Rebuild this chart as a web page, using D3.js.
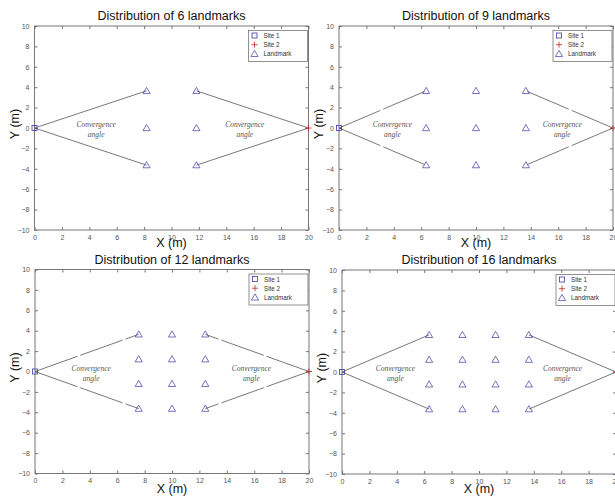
<!DOCTYPE html>
<html>
<head>
<meta charset="utf-8">
<script src="https://d3js.org/d3.v7.min.js"></script>
<style>
  body { margin: 0; background: #fff; }
  svg { display: block; font-family: "Liberation Sans", Arial, sans-serif; }
  .tick text { fill: #555; font-size: 7px; }
  .conv { font-family: "Liberation Serif", "Times New Roman", serif; font-style: italic; font-size: 7.5px; fill: #555; }
</style>
</head>
<body>
<svg id="chart" width="615" height="497"></svg>
<script>
// chart data
const titles = ["Distribution of 6 landmarks", "Distribution of 9 landmarks",
                "Distribution of 12 landmarks", "Distribution of 16 landmarks"];
const landmarkX = [[8.18, 11.82], [6.36, 10, 13.64], [7.57, 10, 12.43], [6.36, 8.79, 11.21, 13.64]];
const landmarkY = [[3.64, 0, -3.64], [3.64, 0, -3.64], [3.64, 1.21, -1.21, -3.64], [3.64, 1.21, -1.21, -3.64]];
const site1 = [0, 0];
const site2 = [20, 0];
const convX = [[4.5, 15.35], [3.9, 16.3], [4.1, 15.8], [3.9, 16.1]];
const convY = -0.1;
const xTicks = d3.range(0, 21, 2);
const yTicks = d3.range(-10, 11, 2);
const legendLabels = ["Site 1", "Site 2", "Landmark"];

// panel placement (pixels)
const panelPos = [[34.5, 26], [339, 26], [35, 269.5], [342, 270]];
const W = 274, H = 204;

const svg = d3.select("#chart");
const blue = "#3a3aa8", red = "#cc2222", axisCol = "#777";

const tri = d3.symbol().type(d3.symbolTriangle).size(22);

function drawMarker(g, kind, x, y) {
  if (kind === 0) {
    g.append("rect").attr("x", x - 2.5).attr("y", y - 2.5).attr("width", 5).attr("height", 5)
      .attr("fill", "none").attr("stroke", blue).attr("stroke-width", 0.8);
  } else if (kind === 1) {
    g.append("path").attr("d", `M${x - 3},${y}H${x + 3}M${x},${y - 3}V${y + 3}`)
      .attr("stroke", red).attr("stroke-width", 0.8);
  } else {
    g.append("path").attr("d", tri).attr("transform", `translate(${x},${y + 0.6})`)
      .attr("fill", "none").attr("stroke", blue).attr("stroke-width", 0.7);
  }
}

titles.forEach(function(title, i) {
  const [px, py] = panelPos[i];
  const x = d3.scaleLinear().domain([0, 20]).range([0, W]);
  const y = d3.scaleLinear().domain([-10, 10]).range([H, 0]);
  const g = svg.append("g").attr("transform", `translate(${px},${py})`);

  // frame
  g.append("rect").attr("width", W).attr("height", H)
    .attr("fill", "#fff").attr("stroke", axisCol).attr("stroke-width", 1);

  // axes (ticks inward on all sides)
  const ax = [
    d3.axisBottom(x).tickValues(xTicks).tickSize(-3).tickPadding(5),
    d3.axisTop(x).tickValues(xTicks).tickSize(-3).tickFormat(""),
    d3.axisLeft(y).tickValues(yTicks).tickSize(-3).tickPadding(5),
    d3.axisRight(y).tickValues(yTicks).tickSize(-3).tickFormat("")
  ];
  const tr = [`translate(0,${H})`, "translate(0,0)", "translate(0,0)", `translate(${W},0)`];
  ax.forEach(function(a, k) {
    const ga = g.append("g").attr("transform", tr[k]).call(a);
    ga.select(".domain").remove();
    ga.selectAll("line").attr("stroke", axisCol);
  });

  // sight lines
  const xs = landmarkX[i];
  const yTop = d3.max(landmarkY[i]), yBot = d3.min(landmarkY[i]);
  const lines = [
    [site1, [xs[0], yTop]], [site1, [xs[0], yBot]],
    [site2, [xs[xs.length - 1], yTop]], [site2, [xs[xs.length - 1], yBot]]
  ];
  lines.forEach(function(l) {
    g.append("line")
      .attr("x1", x(l[0][0])).attr("y1", y(l[0][1]))
      .attr("x2", x(l[1][0])).attr("y2", y(l[1][1]))
      .attr("stroke", "#555").attr("stroke-width", 0.8)
      .attr("stroke-dasharray", (i === 1 || i === 2) ? "45,3" : null);
  });

  // landmarks
  xs.forEach(function(lx) {
    landmarkY[i].forEach(function(ly) { drawMarker(g, 2, x(lx), y(ly)); });
  });
  drawMarker(g, 0, x(site1[0]), y(site1[1]));
  drawMarker(g, 1, x(site2[0]), y(site2[1]));

  // convergence labels
  convX[i].forEach(function(cx) {
    const t = g.append("text").attr("class", "conv").attr("text-anchor", "middle")
      .attr("x", x(cx)).attr("y", y(convY));
    t.append("tspan").attr("x", x(cx)).attr("dy", "-2").text("Convergence");
    t.append("tspan").attr("x", x(cx)).attr("dy", "10").text("angle");
  });

  // legend
  const lg = g.append("g").attr("transform", `translate(${W - 60},4.5)`);
  lg.append("rect").attr("width", 59).attr("height", 31)
    .attr("fill", "#fff").attr("stroke", axisCol).attr("stroke-width", 0.8);
  legendLabels.forEach(function(lab, k) {
    drawMarker(lg, k, 6, 5 + k * 9.2);
    lg.append("text").attr("x", 15).attr("y", 7.5 + k * 9.2)
      .attr("font-size", 6.3).attr("fill", "#333").text(lab);
  });

  // titles & axis labels
  g.append("text").attr("x", W / 2).attr("y", -6).attr("text-anchor", "middle")
    .attr("font-size", 12.5).attr("fill", "#111").text(title);
  g.append("text").attr("x", W / 2).attr("y", H + (i < 2 ? 17 : 19)).attr("text-anchor", "middle")
    .attr("font-size", 12.5).attr("fill", "#111").text("X (m)");
  g.append("text").attr("transform", `translate(-16,${H / 2 - 4}) rotate(-90)`)
    .attr("text-anchor", "middle").attr("font-size", 12.5).attr("fill", "#111").text("Y (m)");
});
</script>
</body>
</html>
